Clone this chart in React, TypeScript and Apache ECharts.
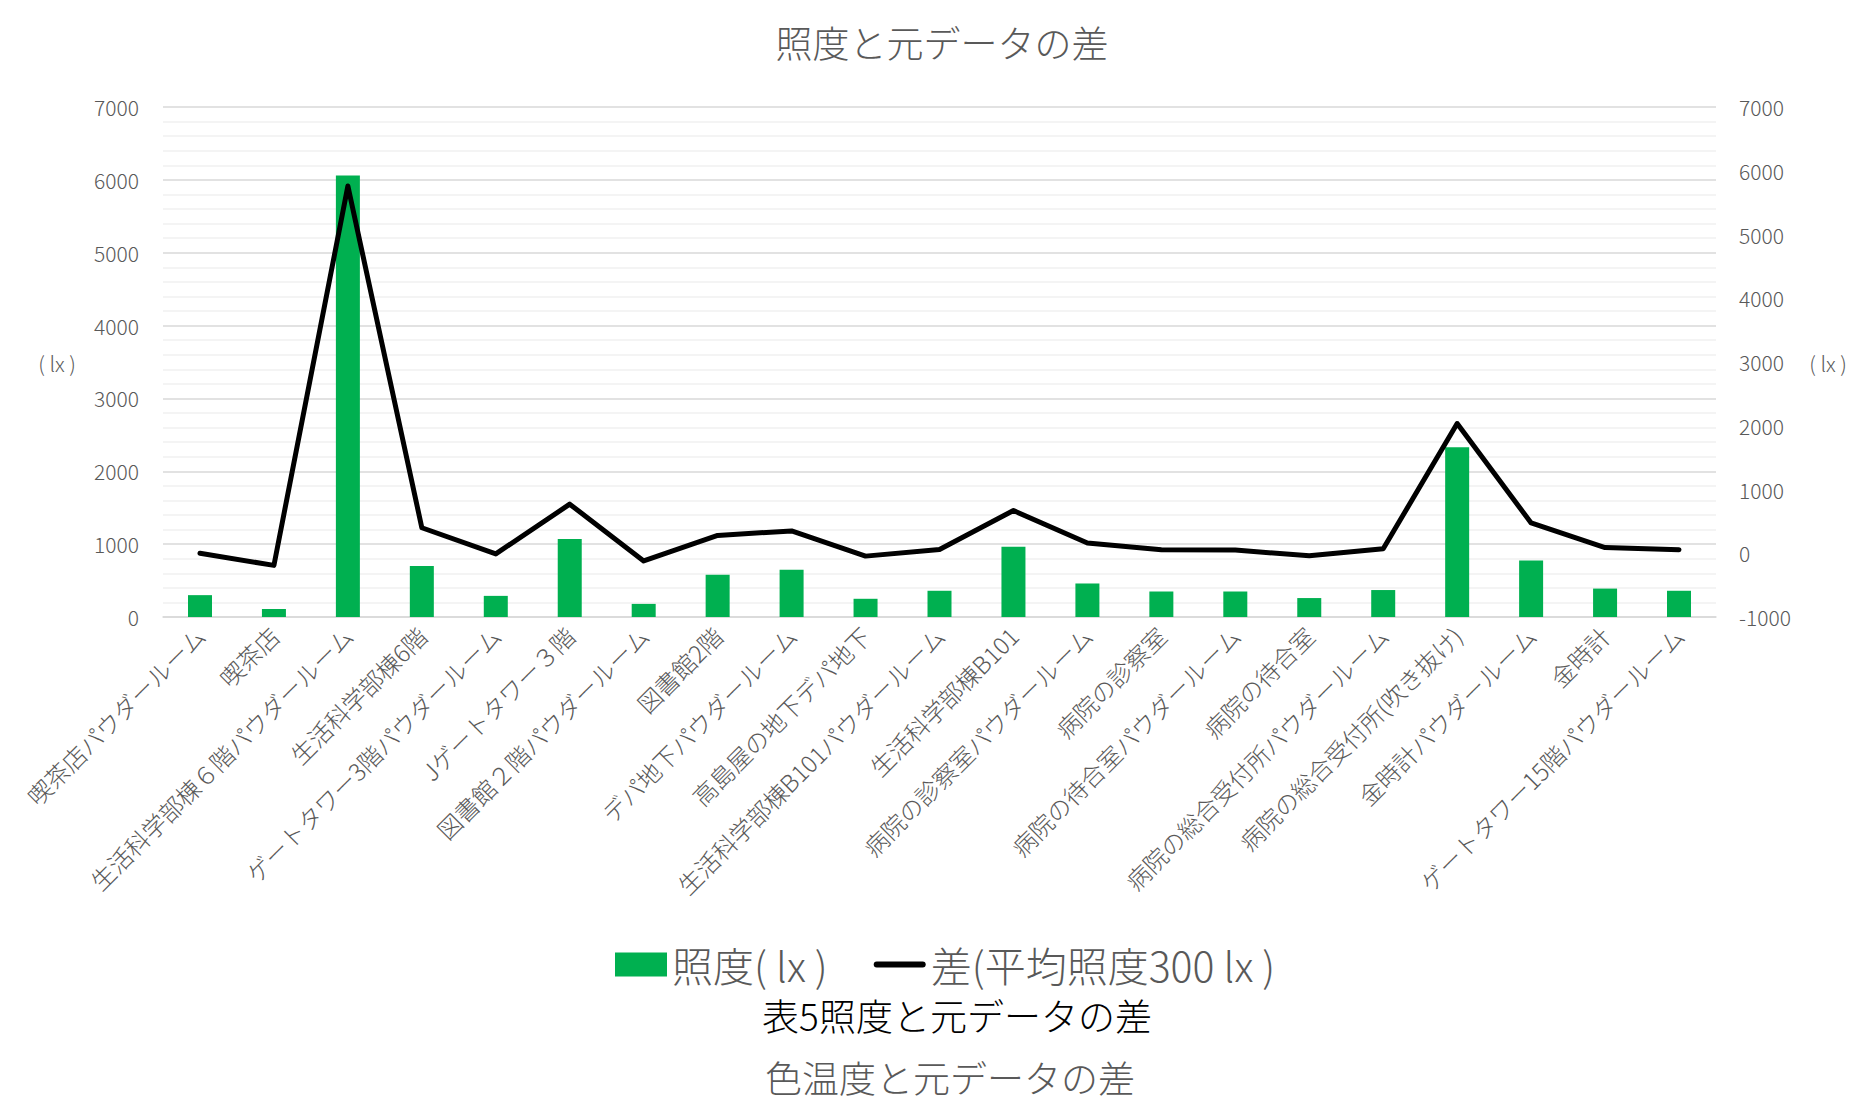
import React, { useEffect, useRef } from "react";
import * as echarts from "echarts";

const categories = [
  "喫茶店パウダールーム",
  "喫茶店",
  "生活科学部棟６階パウダールーム",
  "生活科学部棟6階",
  "ゲートタワー3階パウダールーム",
  "Jゲートタワー３階",
  "図書館２階パウダールーム",
  "図書館2階",
  "デパ地下パウダールーム",
  "高島屋の地下デパ地下",
  "生活科学部棟B101パウダールーム",
  "生活科学部棟B101",
  "病院の診察室パウダールーム",
  "病院の診察室",
  "病院の待合室パウダールーム",
  "病院の待合室",
  "病院の総合受付所パウダールーム",
  "病院の総合受付所(吹き抜け)",
  "金時計パウダールーム",
  "金時計",
  "ゲートタワー15階パウダールーム",
];

const illuminance = [300, 110, 6060, 700, 290, 1070, 180, 580, 650, 250, 360, 965, 460, 350, 350, 260, 370, 2330, 775, 390, 360];
const difference = [0, -190, 5760, 400, -10, 770, -120, 280, 350, -45, 60, 670, 160, 55, 50, -40, 70, 2035, 475, 90, 55];

const leftTicks = { min: 0, max: 7000, interval: 1000 };
const rightTicks = { min: -1000, max: 7000, interval: 1000 };

const FONT = "'Noto Sans CJK JP', 'Noto Sans', sans-serif";
const GRAY = "#595959";
const W = 300;

export default function App() {
  const ref = useRef<HTMLDivElement>(null);
  useEffect(() => {
    if (!ref.current) return;
    const chart = echarts.init(ref.current, null, { renderer: "svg" });
    chart.setOption({
      animation: false,
      backgroundColor: "#ffffff",
      textStyle: { fontFamily: FONT, fontWeight: W },
      title: [
        {
          text: "照度と元データの差",
          left: 937,
          top: 18,
          textAlign: "center",
          textStyle: { fontSize: 37, color: GRAY, fontWeight: W, fontFamily: FONT },
        },
        {
          text: "表5照度と元データの差",
          left: 952,
          top: 991,
          textAlign: "center",
          textStyle: { fontSize: 37, color: "#000000", fontWeight: W, fontFamily: FONT },
        },
        {
          text: "色温度と元データの差",
          left: 945,
          top: 1053,
          textAlign: "center",
          textStyle: { fontSize: 37, color: GRAY, fontWeight: W, fontFamily: FONT },
        },
      ],
      legend: {
        left: 610,
        top: 939,
        itemWidth: 52,
        itemHeight: 24,
        itemGap: 46,
        textStyle: { fontSize: 41, color: GRAY, fontFamily: FONT, fontWeight: W },
        data: [
          { name: "照度( lx )", icon: "rect" },
          {
            name: "差(平均照度300 lx )",
            icon: "path://M3,0H49A3,3 0 0 1 49,6H3A3,3 0 0 1 3,0Z",
            itemStyle: { color: "#000000" },
          },
        ],
      },
      graphic: [
        {
          type: "text",
          x: 57,
          y: 363,
          style: { text: "( lx )", fontSize: 21, fill: GRAY, align: "center", verticalAlign: "middle", fontFamily: FONT, fontWeight: W },
        },
        {
          type: "text",
          x: 1828,
          y: 363,
          style: { text: "( lx )", fontSize: 21, fill: GRAY, align: "center", verticalAlign: "middle", fontFamily: FONT, fontWeight: W },
        },
      ],
      grid: { left: 163, right: 133, top: 107, bottom: 488, containLabel: false },
      xAxis: {
        type: "category",
        data: categories,
        axisTick: { show: false },
        axisLine: { lineStyle: { color: "#d9d9d9", width: 1.5 } },
        axisLabel: {
          rotate: 45,
          interval: 0,
          margin: 14,
          fontSize: 24,
          color: GRAY,
          fontFamily: FONT,
          fontWeight: W,
        },
      },
      yAxis: [
        {
          type: "value",
          min: leftTicks.min,
          max: leftTicks.max,
          interval: leftTicks.interval,
          axisLine: { show: false },
          axisTick: { show: false },
          axisLabel: { fontSize: 21, color: GRAY, margin: 24, fontFamily: FONT, fontWeight: W, formatter: (v: number) => String(v) },
          splitLine: { show: true, lineStyle: { color: "#d9d9d9", width: 1.5 } },
          minorTick: { show: false, splitNumber: 5 },
          minorSplitLine: { show: true, lineStyle: { color: "#f0f0f0", width: 1.5 } },
        },
        {
          type: "value",
          position: "right",
          min: rightTicks.min,
          max: rightTicks.max,
          interval: rightTicks.interval,
          axisLine: { show: false },
          axisTick: { show: false },
          axisLabel: { fontSize: 21, color: GRAY, margin: 23, fontFamily: FONT, fontWeight: W, formatter: (v: number) => String(v) },
          splitLine: { show: false },
        },
      ],
      series: [
        {
          name: "照度( lx )",
          type: "bar",
          yAxisIndex: 0,
          data: illuminance,
          barWidth: 24,
          itemStyle: { color: "#00B050" },
        },
        {
          name: "差(平均照度300 lx )",
          type: "line",
          yAxisIndex: 1,
          data: difference,
          symbol: "none",
          lineStyle: { color: "#000000", width: 5, join: "round", cap: "round" },
          itemStyle: { color: "#000000" },
        },
      ],
    });
    return () => chart.dispose();
  }, []);
  return (
    <div
      ref={ref}
      style={{ position: "fixed", left: 0, top: 0, width: 1849, height: 1105, background: "#fff" }}
    />
  );
}
